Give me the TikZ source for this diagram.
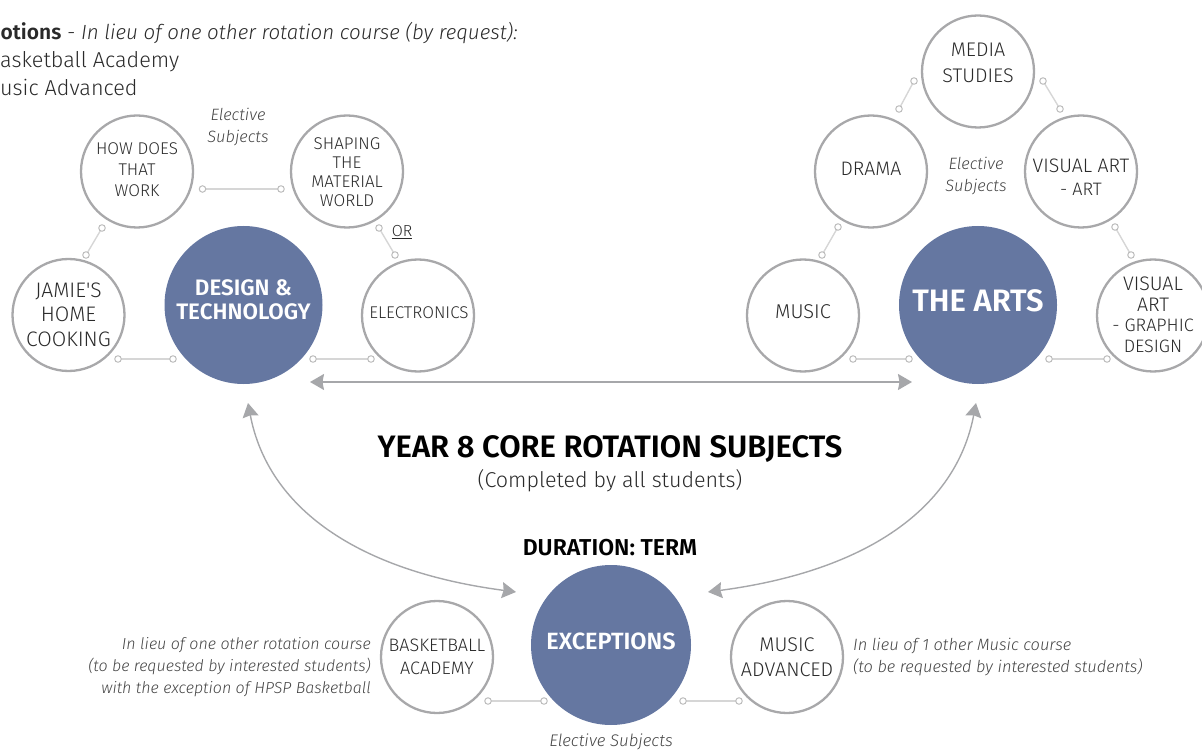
\documentclass[tikz,border=0pt]{standalone}
\usepackage{fontspec}
\IfFontExistsTF{Fira Sans Light}{%
  \setmainfont{Fira Sans}[Ligatures=TeXOff,UprightFont={* Light},ItalicFont={* Light Italic}]}{%
  \setmainfont{Fira Sans}[Ligatures=TeXOff]}
\usetikzlibrary{arrows.meta}
\definecolor{cblue}{HTML}{6577A1}
\definecolor{cgray}{HTML}{A8A8AA}
\definecolor{lgray}{HTML}{D6D6D6}
\definecolor{dgray}{HTML}{BDBDBD}
\definecolor{agray}{HTML}{A6A7AA}
\definecolor{txt}{HTML}{2A2A2A}
\definecolor{itx}{HTML}{444444}
\newcommand{\fs}[2]{\fontsize{#1}{#2}\selectfont}
\tikzset{
  sub/.style={circle, draw=cgray, line width=2.3pt, fill=white, minimum size=112pt, inner sep=0pt},
  core/.style={circle, fill=cblue, minimum size=158pt, inner sep=0pt},
  lab/.style={inner sep=0pt, align=center, text=txt},
  clab/.style={inner sep=0pt, align=center, text=white},
  link/.style={draw=lgray, line width=1.4pt},
  ldot/.style={circle, draw=dgray, fill=white, line width=1pt, minimum size=6.5pt, inner sep=0pt},
  arr/.style={draw=agray, line width=1.4pt, {Stealth[length=14pt,width=16pt,inset=1.5pt]}-{Stealth[length=14pt,width=16pt,inset=1.5pt]}},
  note/.style={inner sep=0pt, align=center, text=itx, font=\itshape\fs{16.4}{22}},
}
\begin{document}
\begin{tikzpicture}[x=1pt,y=-1pt]
\useasboundingbox (0,0) rectangle (1202,751);
% ---- top-left text
\node[anchor=base west, inner sep=0pt, text=txt, font=\fs{21}{28}] (t1) at (0.5,40) {\textbf{otions}\ \fs{20.5}{28}\textit{- In lieu of one other rotation course (by request):}};
\node[anchor=base west, inner sep=0pt, text=txt, font=\fs{21.6}{28}] (t2) at (0,68) {asketball Academy};
\node[anchor=base west, inner sep=0pt, text=txt, font=\fs{21.6}{28}] (t3) at (0,96) {usic Advanced};
% ---- circles
\node[sub] (how) at (137,171.5) {};
\node[sub] (shape) at (347,171.5) {};
\node[sub] (jamie) at (68.5,315) {};
\node[sub] (elec) at (418,315.5) {};
\node[core] (design) at (243.5,305) {};
\node[sub] (media) at (978,71.5) {};
\node[sub] (drama) at (871,171.5) {};
\node[sub] (vart) at (1081,171.5) {};
\node[sub] (music) at (803,315.5) {};
\node[sub] (vgd) at (1153,315.5) {};
\node[core] (arts) at (978,305) {};
\node[sub] (bask) at (437,657) {};
\node[sub] (madv) at (787,657) {};
\node[core, minimum size=160pt] (exc) at (611,645) {};
% ---- circle labels
\node[lab, font=\fs{17}{21}] (howt) at (137,170) {HOW DOES\\THAT\\WORK};
\node[lab, font=\fs{17}{19}] (shapet) at (347,172.5) {SHAPING\\THE\\MATERIAL\\WORLD};
\node[lab, font=\fs{21}{24.5}] (jamiet) at (68.5,314.5) {JAMIE'S\\HOME\\COOKING};
\node[lab, font=\fs{17}{20}] (elect) at (419,313) {ELECTRONICS};
\node[clab, font=\bfseries\fs{22.4}{24}] (designt) at (243.5,300) {DESIGN \&\\TECHNOLOGY};
\node[lab, font=\fs{19.7}{26}] (mediat) at (978,63) {MEDIA\\STUDIES};
\node[lab, font=\fs{19.5}{24}] (dramat) at (871,169) {DRAMA};
\node[lab, font=\fs{19.5}{23}] (vartt) at (1081,177.5) {VISUAL ART\\\fs{18}{23}- ART};
\node[lab, font=\fs{20}{24}] (musict) at (803,312) {MUSIC};
\node[lab, font=\fs{19.6}{20.5}] (vgdt) at (1153,315) {VISUAL\\ART\\\fs{18}{20.5}- GRAPHIC\\\fs{18}{20.5}DESIGN};
\node[clab, font=\bfseries\fs{31}{34}] (artst) at (978,301) {THE ARTS};
\node[lab, font=\fs{18}{23}] (baskt) at (437,656.5) {BASKETBALL\\ACADEMY};
\node[lab, font=\fs{19.8}{25}] (madvt) at (787,657.5) {MUSIC\\ADVANCED};
\node[clab, font=\bfseries\fs{23.5}{26}] (exct) at (611,641) {EXCEPTIONS};
% ---- other texts
\node[note] (el1) at (238,127) {Elective\\Subjects};
\node[inner sep=0pt, text=txt, font=\fs{16}{18}] (or) at (402,232) {\underline{OR}};
\node[note] (el2) at (976,176) {Elective\\Subjects};
\node[note, align=right, anchor=east, font=\itshape\fs{16}{22}] (nl) at (371,667) {In lieu of one other rotation course\\(to be requested by interested students)\\with the exception of HPSP Basketball};
\node[note, align=left, anchor=west] (nr) at (853,657) {In lieu of 1 other Music course\\(to be requested by interested students)};
\node[note, font=\itshape\fs{16.8}{22}] (el3) at (611,742) {Elective Subjects};
\node[inner sep=0pt, text=black, font=\bfseries\fs{31}{34}] (title) at (610,449) {YEAR 8 CORE ROTATION SUBJECTS};
\node[inner sep=0pt, text=txt, font=\fs{21.5}{24}] (comp) at (610,481) {(Completed by all students)};
\node[inner sep=0pt, text=black, font=\bfseries\fs{23}{26}] (dur) at (610,548) {DURATION: TERM};
% ---- small connectors
\foreach \n/\x/\y in {a1/202.5/189, a2/281/189, b1/102/228, b2/86/255, c1/379/228, c2/395/255,
  d1/118/359, d2/173/359, e1/313/359, e2/371/359,
  f1/914/81, f2/899/109, g1/1043/81, g2/1060/109, h1/838/227, h2/822/255, i1/1115/227, i2/1131/255,
  j1/853/359, j2/909/359, k1/1049/359, k2/1107/359, m1/488/701, m2/544/701, n1/683/701, n2/739/701}
  \coordinate (\n) at (\x,\y);
\foreach \p in {a,b,c,d,e,f,g,h,i,j,k,m,n}{
  \draw[link] (\p1) -- (\p2);
  \node[ldot] at (\p1) {};
  \node[ldot] at (\p2) {};
}
% ---- arrows
\coordinate (hl) at (310,382);
\coordinate (hr) at (912,382);
\draw[arr] (hl) -- (hr);
\coordinate (la) at (248,403);
\coordinate (lb) at (516,592);
\draw[arr] (la) .. controls (268,508) and (357,571) .. (lb);
\coordinate (ra) at (976,403);
\coordinate (rb) at (708,592);
\draw[arr] (ra) .. controls (956,508) and (867,571) .. (rb);
\end{tikzpicture}
\end{document}
